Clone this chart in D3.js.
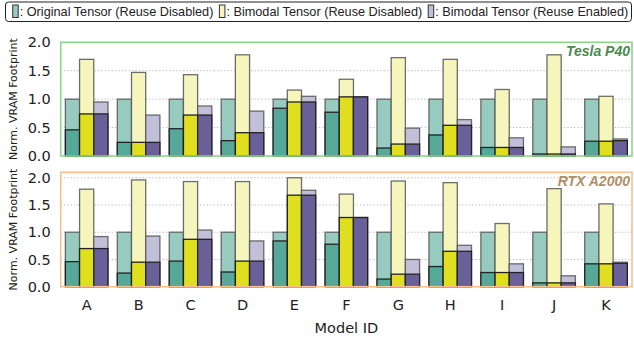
<!DOCTYPE html>
<html><head><meta charset="utf-8">
<script src="https://cdn.jsdelivr.net/npm/d3@7"></script>
<style>body{margin:0;background:#fff}svg{display:block}</style>
</head><body>
<svg id="c" width="634" height="338"></svg>
<script>
const categories = ['A','B','C','D','E','F','G','H','I','J','K'];
const seriesNames = [': Original Tensor (Reuse Disabled)', ': Bimodal Tensor (Reuse Disabled)', ': Bimodal Tensor (Reuse Enabled)'];
const panelNames = ['Tesla P40', 'RTX A2000'];
const yTicks = [0.0, 0.5, 1.0, 1.5, 2.0];

// Tesla P40
const p40OrigTotal   = [1,1,1,1,1,1,1,1,1,1,1];
const p40OrigCore    = [0.46,0.24,0.48,0.27,0.84,0.77,0.14,0.37,0.15,0.035,0.26];
const p40BimTotal    = [1.70,1.47,1.43,1.78,1.16,1.35,1.73,1.70,1.17,1.78,1.05];
const p40BimCore     = [0.74,0.24,0.72,0.41,0.95,1.04,0.21,0.54,0.15,0.035,0.26];
const p40ReuseTotal  = [0.95,0.72,0.88,0.79,1.05,1.04,0.49,0.64,0.32,0.16,0.30];
const p40ReuseCore   = [0.74,0.24,0.72,0.41,0.95,1.04,0.21,0.54,0.15,0.035,0.27];

// RTX A2000
const a2kOrigTotal   = [1,1,1,1,1,1,1,1,1,1,1];
const a2kOrigCore    = [0.46,0.25,0.47,0.27,0.84,0.78,0.14,0.37,0.26,0.07,0.42];
const a2kBimTotal    = [1.79,1.96,1.93,1.93,2.00,1.70,1.94,1.91,1.16,1.80,1.52];
const a2kBimCore     = [0.70,0.45,0.87,0.47,1.68,1.27,0.23,0.65,0.26,0.07,0.42];
const a2kReuseTotal  = [0.92,0.93,1.04,0.84,1.77,1.27,0.50,0.76,0.42,0.20,0.45];
const a2kReuseCore   = [0.70,0.45,0.87,0.47,1.68,1.27,0.23,0.65,0.26,0.07,0.43];

const lightColors = ['#98cbc0','#f6f6bc','#c2bfd8'];
const darkColors  = ['#56a899','#dfde1f','#696099'];

const svg = d3.select('#c');
const L = 60.7, R = 632;
const x = d3.scaleBand().domain(categories).range([L, R]).paddingInner(0.18).paddingOuter(0.09);
const xs = d3.scaleBand().domain([0,1,2]).range([0, x.bandwidth()]);

const panels = [
  {name: panelNames[0], top: 42.3, bottom: 156, max: 2.0, frame: '#8ed68c', label: '#4c8a4e',
   totals: [p40OrigTotal, p40BimTotal, p40ReuseTotal], cores: [p40OrigCore, p40BimCore, p40ReuseCore]},
  {name: panelNames[1], top: 172.3, bottom: 286.7, max: 2.1, frame: '#f8c08e', label: '#ad9068',
   totals: [a2kOrigTotal, a2kBimTotal, a2kReuseTotal], cores: [a2kOrigCore, a2kBimCore, a2kReuseCore]}
];

panels.forEach(p => {
  const y = d3.scaleLinear().domain([0, p.max]).range([p.bottom, p.top]);
  const g = svg.append('g');
  // grid
  g.selectAll('line.grid').data(yTicks.filter(t => t > 0)).join('line')
    .attr('x1', L).attr('x2', R).attr('y1', d => y(d)).attr('y2', d => y(d))
    .attr('stroke', '#b5b5b5').attr('stroke-width', 1).attr('stroke-dasharray', '1.2,2.2');
  // y axis labels
  const ax = d3.axisLeft(y).tickValues(yTicks).tickFormat(d3.format('.1f')).tickSize(0).tickPadding(10);
  const axg = g.append('g').attr('transform', `translate(${L},0)`).call(ax);
  axg.select('.domain').remove();
  axg.selectAll('text').attr('font-family', 'DejaVu Sans').attr('font-size', 14.5).attr('fill', '#222');
  // bars
  for (let s = 0; s < 3; s++) {
    g.selectAll(null).data(categories).join('rect')
      .attr('x', d => x(d) + xs(s)).attr('width', xs.bandwidth())
      .attr('y', (d, i) => y(p.totals[s][i])).attr('height', (d, i) => y(0) - y(p.totals[s][i]))
      .attr('fill', lightColors[s]).attr('stroke', '#555').attr('stroke-opacity', 0.85).attr('stroke-width', 1.3);
    g.selectAll(null).data(categories).join('rect')
      .attr('x', d => x(d) + xs(s)).attr('width', xs.bandwidth())
      .attr('y', (d, i) => y(p.cores[s][i])).attr('height', (d, i) => y(0) - y(p.cores[s][i]))
      .attr('fill', darkColors[s]).attr('stroke', '#222').attr('stroke-width', 1.3);
  }
  // frame
  g.append('rect').attr('x', L).attr('y', p.top).attr('width', R - L).attr('height', p.bottom - p.top)
    .attr('fill', 'none').attr('stroke', p.frame).attr('stroke-width', 1.6);
  // panel label
  g.append('text').attr('x', R - 2).attr('y', p.top + 13.5).attr('text-anchor', 'end')
    .attr('font-family', 'Liberation Sans').attr('font-weight', 'bold').attr('font-style', 'italic')
    .attr('font-size', 14).attr('fill', p.label).text(p.name);
  // y label
  svg.append('text').attr('transform', `translate(17,${(p.top + p.bottom) / 2}) rotate(-90)`)
    .attr('text-anchor', 'middle').attr('font-family', 'DejaVu Sans').attr('font-size', 11).attr('fill', '#222')
    .text('Norm. VRAM Footprint');
});

// x axis
const xa = svg.append('g').attr('transform', 'translate(0,286.7)').call(d3.axisBottom(x).tickSize(0).tickPadding(13));
xa.select('.domain').remove();
xa.selectAll('text').attr('font-family', 'DejaVu Sans').attr('font-size', 14.5).attr('fill', '#222');
svg.append('text').attr('x', (L + R) / 2).attr('y', 333).attr('text-anchor', 'middle')
  .attr('font-family', 'DejaVu Sans').attr('font-size', 14.5).attr('fill', '#222').text('Model ID');

// legend
svg.append('rect').attr('x', 5.5).attr('y', 2).attr('width', 626).attr('height', 19.5).attr('rx', 3)
  .attr('fill', '#fff').attr('stroke', '#222').attr('stroke-width', 1);
let lx = 12.7;
seriesNames.forEach((n, i) => {
  svg.append('rect').attr('x', lx).attr('y', 5).attr('width', 5.5).attr('height', 12.5)
    .attr('fill', lightColors[i]).attr('stroke', '#333').attr('stroke-width', 1);
  const t = svg.append('text').attr('x', lx + 7).attr('y', 16).attr('font-family', 'Liberation Sans')
    .attr('font-size', 12.7).attr('fill', '#222').text(n);
  lx += 7 + t.node().getComputedTextLength() + 6;
});
</script>
</body></html>
